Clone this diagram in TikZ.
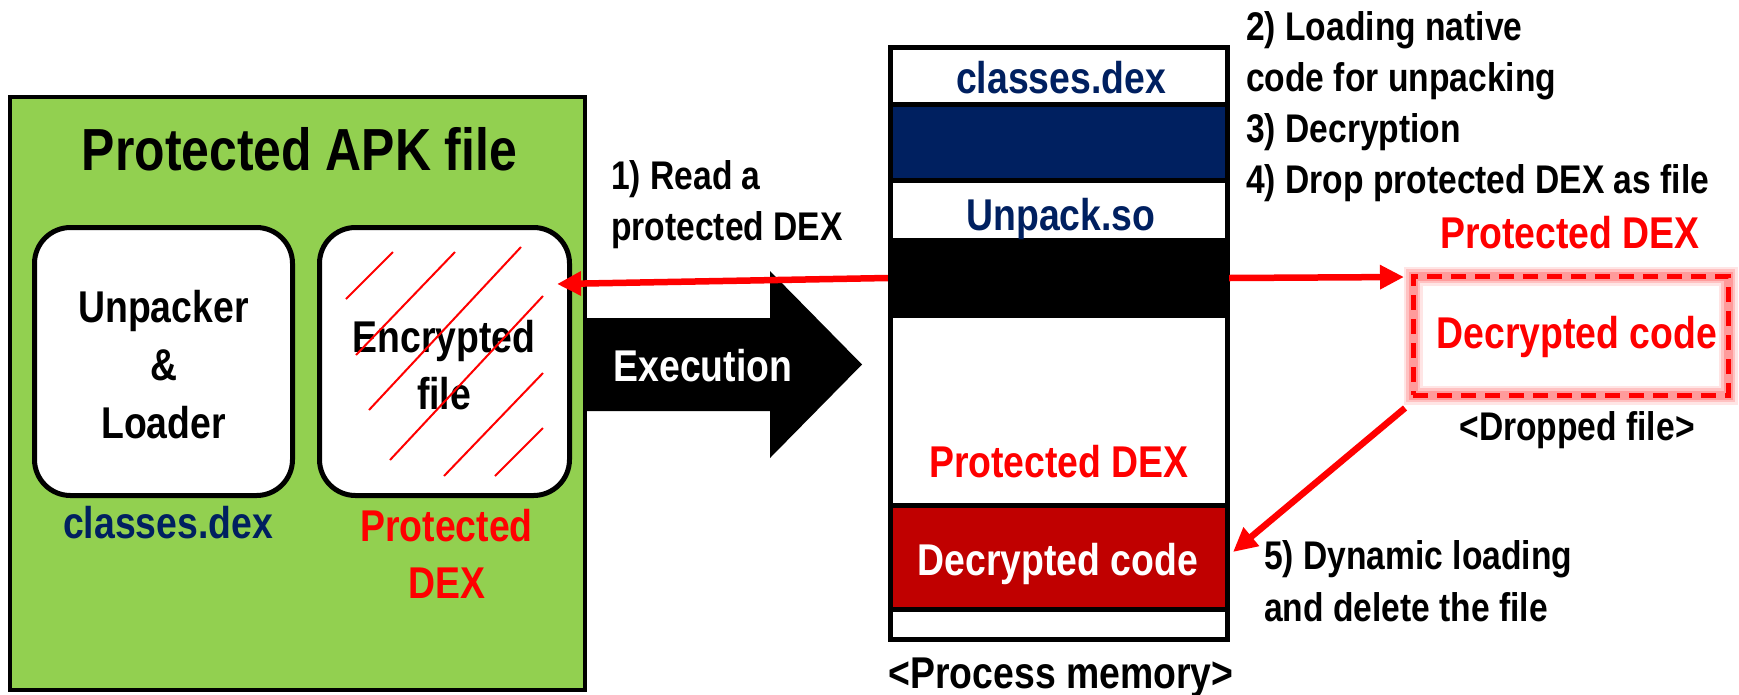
\documentclass[tikz,border=0pt]{standalone}
\usepackage{fontspec}
\setmainfont[FakeStretch=0.84]{Liberation Sans}
\usetikzlibrary{arrows.meta}
\definecolor{apkgreen}{HTML}{92D050}
\definecolor{navy}{HTML}{002060}
\definecolor{dred}{HTML}{C00000}
\definecolor{pred}{HTML}{FF0000}
\begin{document}
\begin{tikzpicture}[x=1pt,y=-1pt,
  lbl/.style={inner sep=0pt, anchor=base, font=\bfseries\fontsize{44.5}{50}\selectfont},
  lbls/.style={inner sep=0pt, anchor=base, font=\bfseries\fontsize{40}{46}\selectfont},
  stp/.style={inner sep=0pt, anchor=base west, font=\bfseries\fontsize{40}{46}\selectfont},
  ttl/.style={inner sep=0pt, anchor=base, font=\bfseries\fontsize{59.4}{66}\selectfont},
  rbox/.style={draw=black, line width=5pt, fill=white, rounded corners=36pt, inner sep=0pt},
  memrow/.style={draw=black, line width=5pt, inner sep=0pt, minimum width=336.5pt},
  redarrow/.style={draw=pred, line width=6.5pt, -{Triangle[length=24pt,width=23pt]}},
  hatch/.style={draw=pred, line width=2pt},
  glowbox/.style={draw=pred, line width=5pt, dash pattern=on 15pt off 9pt, inner sep=0pt,
    preaction={draw=pred, draw opacity=0.10, line width=19pt, solid, rounded corners=7pt},
    preaction={draw=pred, draw opacity=0.15, line width=14pt, solid, rounded corners=5pt},
    preaction={draw=pred, draw opacity=0.20, line width=9pt, solid, rounded corners=3pt}}
]
\useasboundingbox (0,0) rectangle (1739,694);
\fill[white] (0,0) rectangle (1739,694);

% Execution arrow
\fill[black] (587,318) -- (770,318) -- (770,271) -- (862,364.5) -- (770,458) -- (770,411) -- (587,411) -- cycle;
\node[lbl, text=white] (exe) at (703,381) {Execution};

% Protected APK file
\node[draw=black, line width=4pt, fill=apkgreen, minimum width=575pt, minimum height=593pt, inner sep=0pt] (apk) at (297.5,393.5) {};
\node[ttl] (title) at (299.5,170) {Protected APK file};

\node[rbox, minimum width=258pt, minimum height=268pt] (unp) at (163.5,361.5) {};
\node[lbl] (unp1) at (163.5,322) {Unpacker};
\node[lbl] (unp2) at (163.5,380) {\&};
\node[lbl] (unp3) at (163.5,438) {Loader};

\node[rbox, minimum width=250pt, minimum height=268pt] (enc) at (444.5,361.5) {};
\node[lbl] (enc1) at (444,352) {Encrypted};
\node[lbl] (enc2) at (444,409) {file};
\draw[hatch] (346,299) -- (393,252);
\draw[hatch] (356,355) -- (455,252);
\draw[hatch] (369,410) -- (521,247);
\draw[hatch] (390,460) -- (543,296);
\draw[hatch] (444,476) -- (543,373);
\draw[hatch] (495,476) -- (543,428);

\node[lbl, text=navy] (cdx) at (168,538) {classes.dex};
\node[lbl, text=pred] (pd1) at (446.5,541) {Protected};
\node[lbl, text=pred] (pd2) at (447,598) {DEX};

% step 1
\node[stp] (s1a) at (611,189) {1) Read a};
\node[stp] (s1b) at (611,240) {protected DEX};

% Process memory
\node[memrow, fill=white, minimum height=592pt] (mem) at (1058.75,343.5) {};
\node[memrow, fill=navy, minimum height=76pt] (nav) at (1058.75,142.5) {};
\node[fill=black, inner sep=0pt, minimum width=341pt, minimum height=80pt] (blk) at (1058.5,278) {};
\node[memrow, fill=dred, minimum height=104pt] (dec) at (1058.75,557.5) {};
\node[lbl, text=navy] (mcd) at (1061,93) {classes.dex};
\node[lbl, text=navy] (mun) at (1061,230) {Unpack.so};
\node[lbl, text=pred] (mpd) at (1059,477) {Protected DEX};
\node[lbl, text=white] (mdc) at (1058,575) {Decrypted code};
\node[lbl] (pm) at (1061,688) {<Process memory>};

% steps 2-4
\node[stp] (s2a) at (1246,40) {2) Loading native};
\node[stp] (s2b) at (1246,91) {code for unpacking};
\node[stp] (s3) at (1246,142) {3) Decryption};
\node[stp] (s4) at (1246,193) {4) Drop protected DEX as file};

% dropped file
\node[lbl, text=pred] (rpd) at (1570,248) {Protected DEX};
\node[glowbox, minimum width=315pt, minimum height=119pt] (drop) at (1570.5,335.5) {};
\node[lbl, text=pred] (rdc) at (1577,348) {Decrypted code};
\node[lbls] (df) at (1577,440) {<Dropped file>};

% step 5
\node[stp] (s5a) at (1264,569) {5) Dynamic loading};
\node[stp] (s5b) at (1264,621) {and delete the file};

% connectors
\coordinate (readtip) at (557,284);
\coordinate (droptip) at (1404,277);
\coordinate (loadstart) at (1405,408);
\coordinate (loadtip) at (1233,552);
\draw[redarrow] (blk.west) -- (readtip);
\draw[redarrow] (blk.east) -- (droptip);
\draw[redarrow] (loadstart) -- (loadtip);
\end{tikzpicture}
\end{document}
